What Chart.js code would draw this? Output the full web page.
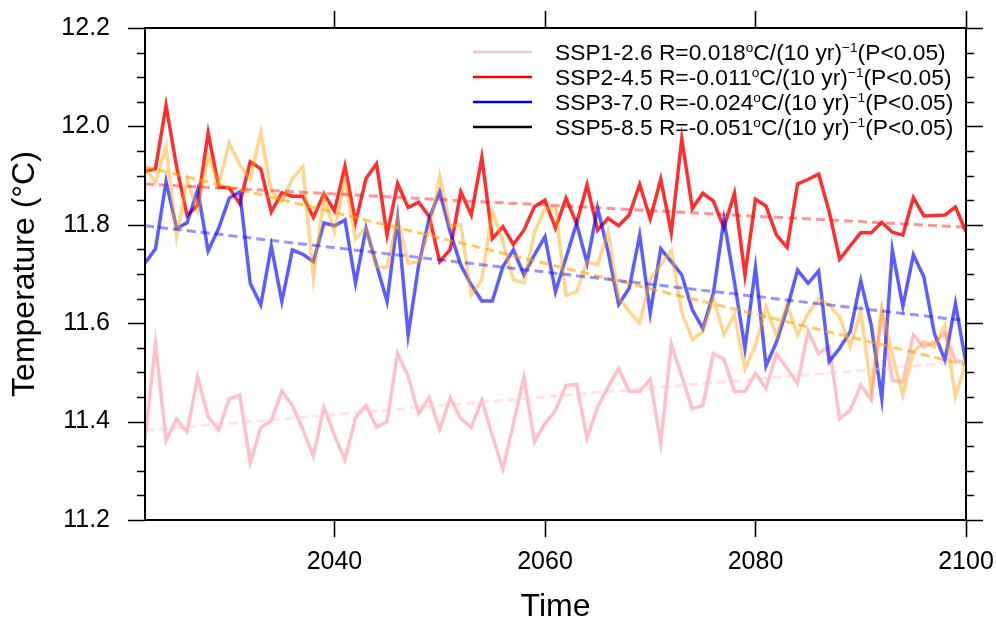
<!DOCTYPE html>
<html>
<head>
<meta charset="utf-8">
<script src="https://cdn.jsdelivr.net/npm/chart.js@4"></script>
<style>html,body{margin:0;padding:0;background:#fff;}canvas{display:block;}</style>
</head>
<body>
<canvas id="c" width="996" height="626"></canvas>
<script>
const years = [2022,2023,2024,2025,2026,2027,2028,2029,2030,2031,2032,2033,2034,2035,2036,2037,2038,2039,2040,2041,2042,2043,2044,2045,2046,2047,2048,2049,2050,2051,2052,2053,2054,2055,2056,2057,2058,2059,2060,2061,2062,2063,2064,2065,2066,2067,2068,2069,2070,2071,2072,2073,2074,2075,2076,2077,2078,2079,2080,2081,2082,2083,2084,2085,2086,2087,2088,2089,2090,2091,2092,2093,2094,2095,2096,2097,2098,2099,2100];

const ssp126 = [11.362,11.559,11.362,11.405,11.379,11.491,11.410,11.383,11.446,11.454,
11.316,11.388,11.402,11.462,11.433,11.384,11.330,11.429,11.372,11.322,
11.408,11.433,11.389,11.400,11.539,11.492,11.416,11.449,11.384,11.448,
11.406,11.388,11.444,11.372,11.303,11.396,11.490,11.359,11.396,11.423,
11.473,11.476,11.366,11.430,11.470,11.508,11.461,11.461,11.486,11.356,
11.558,11.492,11.426,11.433,11.538,11.527,11.461,11.461,11.498,11.467,
11.538,11.508,11.477,11.584,11.538,11.552,11.406,11.423,11.474,11.444,
11.620,11.484,11.481,11.576,11.552,11.562,11.579,11.525,11.518];

const ssp245 = [11.908,11.914,12.043,11.918,11.819,11.840,11.987,11.877,11.875,11.843,
11.928,11.914,11.826,11.865,11.858,11.858,11.815,11.863,11.828,11.919,
11.805,11.894,11.924,11.779,11.884,11.835,11.846,11.817,11.725,11.750,
11.867,11.820,11.937,11.772,11.796,11.760,11.789,11.837,11.850,11.793,
11.854,11.803,11.881,11.789,11.813,11.798,11.820,11.882,11.812,11.893,
11.784,11.975,11.833,11.864,11.848,11.794,11.864,11.698,11.852,11.838,
11.779,11.754,11.883,11.892,11.903,11.827,11.730,11.757,11.784,11.784,
11.805,11.785,11.779,11.855,11.818,11.819,11.820,11.836,11.786];

const ssp370 = [11.722,11.751,11.888,11.793,11.804,11.871,11.747,11.793,11.854,11.867,
11.681,11.637,11.756,11.644,11.749,11.740,11.725,11.804,11.798,11.810,
11.681,11.793,11.718,11.644,11.812,11.576,11.718,11.813,11.867,11.785,
11.718,11.678,11.645,11.645,11.715,11.749,11.698,11.739,11.776,11.664,
11.733,11.803,11.722,11.834,11.745,11.638,11.671,11.779,11.620,11.751,
11.725,11.698,11.627,11.589,11.661,11.810,11.684,11.549,11.713,11.513,
11.562,11.630,11.708,11.681,11.706,11.522,11.549,11.583,11.686,11.596,
11.447,11.749,11.634,11.739,11.694,11.579,11.525,11.640,11.518];

const ssp585 = [11.918,11.886,11.959,11.776,11.891,11.830,11.939,11.882,11.966,11.922,
11.892,11.988,11.868,11.847,11.894,11.918,11.692,11.858,11.786,11.891,
11.772,11.793,11.715,11.713,11.813,11.722,11.725,11.790,11.899,11.797,
11.800,11.657,11.688,11.828,11.766,11.688,11.682,11.785,11.833,11.833,
11.657,11.664,11.725,11.718,11.786,11.651,11.624,11.600,11.690,11.719,
11.748,11.622,11.567,11.583,11.650,11.577,11.617,11.507,11.555,11.634,
11.574,11.638,11.576,11.620,11.650,11.637,11.613,11.552,11.625,11.464,
11.630,11.535,11.454,11.542,11.562,11.552,11.596,11.450,11.522];

// linear trend end points (first year, last year)
const trendStart = [11.382, 11.883, 11.798, 11.918];
const trendEnd   = [11.522, 11.795, 11.605, 11.515];

const scenarioNames = ['SSP1-2.6','SSP2-4.5','SSP3-7.0','SSP5-8.5'];
const trendRates = ['0.018','-0.011','-0.024','-0.051'];
const xTicks = [2040, 2060, 2080, 2100];
const yTicks = [11.2, 11.4, 11.6, 11.8, 12.0, 12.2];
const yMinorStep = 0.05;

const lineColors = ['rgb(255,192,203)','rgba(255,0,0,0.82)','rgba(0,0,255,0.64)','rgba(255,165,0,0.45)'];
const trendColors = ['rgba(255,192,203,0.45)','rgba(255,0,0,0.42)','rgba(0,0,255,0.42)','rgba(255,165,0,0.6)'];
const legendColors = ['#FFC0CB','#FF0000','#0000FF','#000000'];

const FONT = '"Liberation Sans", Arial, Helvetica, sans-serif';
Chart.defaults.font.family = FONT;
Chart.defaults.color = '#000';

const series = [ssp126, ssp245, ssp370, ssp585];
const drawOrder = [4, 3, 2, 1];
const datasets = [];
series.forEach((s, i) => {
  datasets.push({
    label: scenarioNames[i],
    data: s.map((v, j) => ({x: years[j], y: v})),
    borderColor: lineColors[i],
    borderWidth: 3.5,
    pointRadius: 0,
    fill: false,
    order: drawOrder[i]
  });
});
series.forEach((s, i) => {
  datasets.push({
    label: scenarioNames[i] + ' trend',
    data: [{x: years[0], y: trendStart[i]}, {x: years[years.length - 1], y: trendEnd[i]}],
    borderColor: trendColors[i],
    borderWidth: 3,
    borderDash: [9, 5],
    pointRadius: 0,
    fill: false,
    order: 0
  });
});

function drawRich(ctx, x, y, segs, size) {
  for (const s of segs) {
    const fs = s.sup ? size * 0.6 : size;
    ctx.font = fs + 'px ' + FONT;
    ctx.fillText(s.t, x, s.sup ? y - size * 0.36 : y);
    x += ctx.measureText(s.t).width;
  }
}

function zeroPad(s) {
  s.paddingTop = 0; s.paddingBottom = 0; s.paddingLeft = 0; s.paddingRight = 0;
}

const decor = {
  id: 'decor',
  afterDraw(chart) {
    const ctx = chart.ctx;
    const {left, right, top, bottom} = chart.chartArea;
    const xs = chart.scales.x, ys = chart.scales.y;
    ctx.save();
    ctx.strokeStyle = '#000';
    ctx.lineWidth = 2;
    ctx.strokeRect(left, top, right - left, bottom - top);
    ctx.lineWidth = 1.6;
    ctx.beginPath();
    yTicks.forEach(v => {
      const py = Math.round(ys.getPixelForValue(v)) + 0.5;
      ctx.moveTo(left, py); ctx.lineTo(left - 17, py);
      ctx.moveTo(right, py); ctx.lineTo(right + 17, py);
    });
    const yMin = yTicks[0], yMax = yTicks[yTicks.length - 1];
    const n = Math.round((yMax - yMin) / yMinorStep);
    for (let k = 0; k <= n; k++) {
      const v = yMin + k * yMinorStep;
      if (yTicks.some(t => Math.abs(t - v) < 1e-6)) continue;
      const py = Math.round(ys.getPixelForValue(v)) + 0.5;
      ctx.moveTo(left, py); ctx.lineTo(left - 8, py);
      ctx.moveTo(right, py); ctx.lineTo(right + 8, py);
    }
    xTicks.forEach(v => {
      const px = Math.round(xs.getPixelForValue(v)) + 0.5;
      ctx.moveTo(px, bottom); ctx.lineTo(px, bottom + 17);
      ctx.moveTo(px, top); ctx.lineTo(px, top - 17);
    });
    ctx.stroke();

    const size = 22.8;
    ctx.fillStyle = '#000';
    ctx.textBaseline = 'alphabetic';
    ctx.textAlign = 'left';
    scenarioNames.forEach((name, i) => {
      const base = 60 + i * 25;
      ctx.strokeStyle = legendColors[i];
      ctx.lineWidth = 2.5;
      ctx.beginPath();
      ctx.moveTo(473, base - 8);
      ctx.lineTo(532, base - 8);
      ctx.stroke();
      drawRich(ctx, 555, base, [
        {t: name + ' R=' + trendRates[i]},
        {t: 'o', sup: true},
        {t: 'C/(10 yr)'},
        {t: '\u22121', sup: true},
        {t: '(P<0.05)'}
      ], size);
    });
    ctx.restore();
  }
};

new Chart(document.getElementById('c'), {
  type: 'line',
  data: {datasets},
  options: {
    responsive: false,
    animation: false,
    layout: {autoPadding: false, padding: {left: 0, right: 30, top: 28, bottom: 0}},
    plugins: {legend: {display: false}, tooltip: {enabled: false}},
    elements: {line: {tension: 0}, point: {radius: 0}},
    scales: {
      x: {
        type: 'linear', min: years[0], max: years[years.length - 1],
        grid: {display: false, drawTicks: false},
        border: {display: false},
        afterBuildTicks: s => { s.ticks = xTicks.map(v => ({value: v})); },
        afterFit: s => { s.height = 106; zeroPad(s); },
        ticks: {padding: 27, font: {size: 25}, color: '#000', autoSkip: false, maxRotation: 0, callback: v => String(v)},
        title: {display: true, text: 'Time', font: {size: 32}, color: '#000', padding: {top: 0, bottom: 0}}
      },
      y: {
        type: 'linear', min: yTicks[0], max: yTicks[yTicks.length - 1],
        grid: {display: false, drawTicks: false},
        border: {display: false},
        afterBuildTicks: s => { s.ticks = yTicks.map(v => ({value: v})); },
        afterFit: s => { s.width = 145; zeroPad(s); },
        ticks: {padding: 35, font: {size: 25}, color: '#000', autoSkip: false, callback: v => Number(v).toFixed(1)},
        title: {display: true, text: 'Temperature (\u00B0C)', font: {size: 32}, color: '#000', padding: {top: 6, bottom: 0}}
      }
    }
  },
  plugins: [decor]
});
</script>
</body>
</html>
